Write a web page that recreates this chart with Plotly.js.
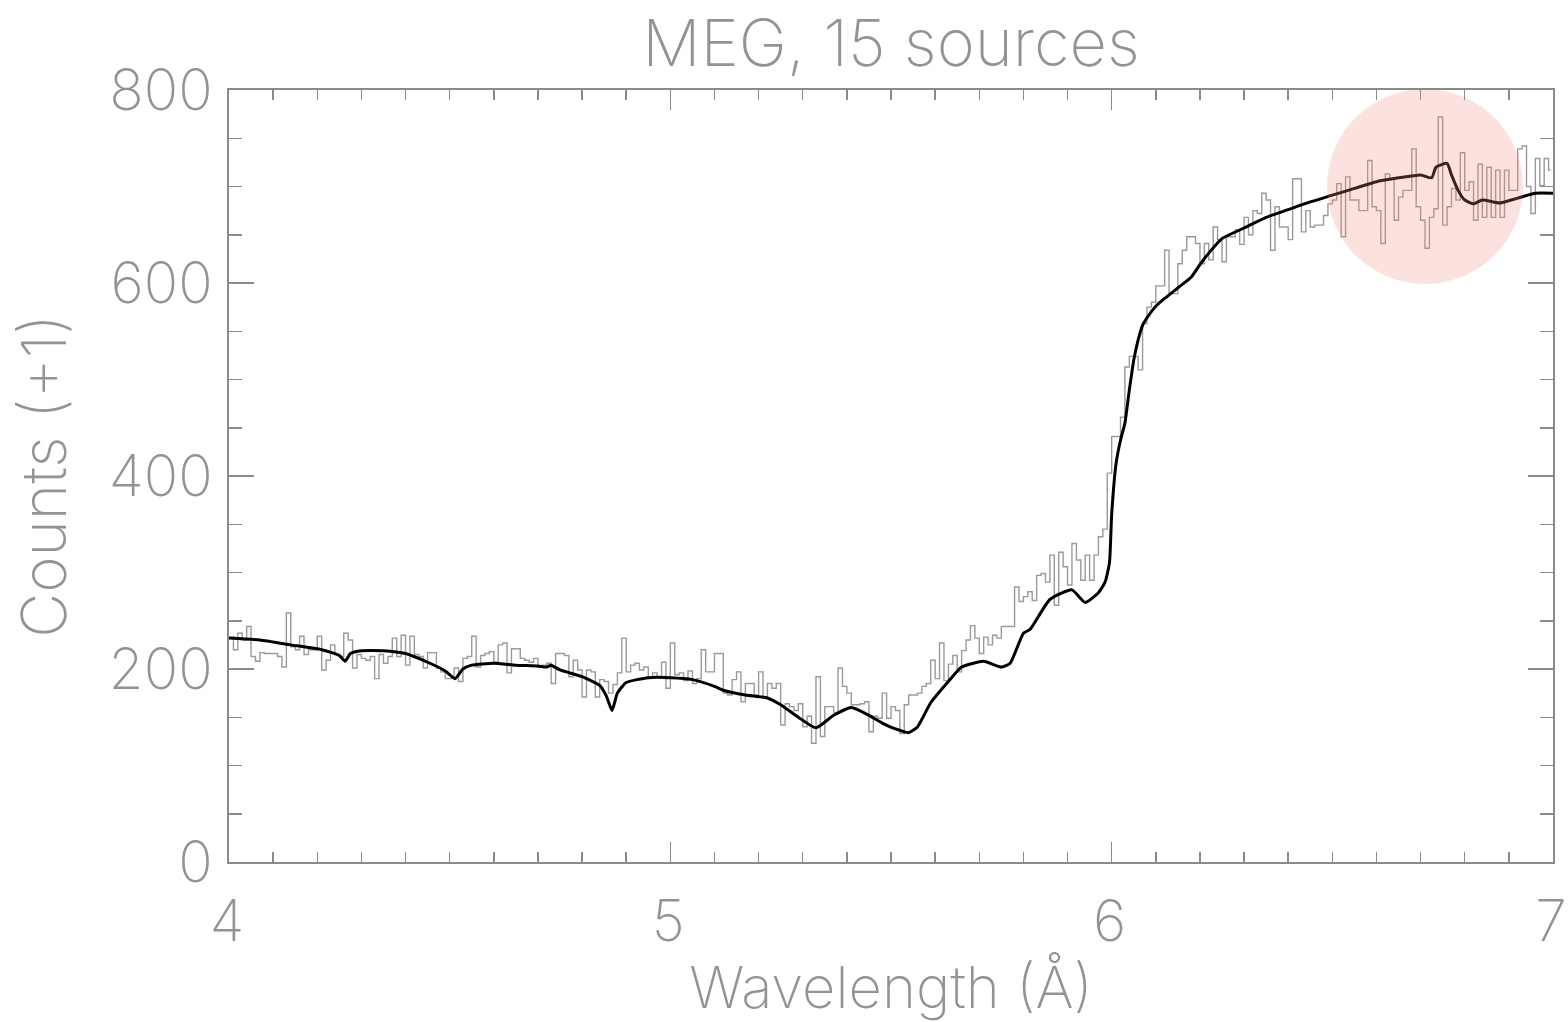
<!DOCTYPE html>
<html>
<head>
<meta charset="utf-8">
<script src="https://cdn.plot.ly/plotly-3.0.1.min.js"></script>
<style>
  html, body { margin: 0; padding: 0; background: #ffffff; }
  #chart { width: 1568px; height: 1022px; }
</style>
</head>
<body>
<div id="chart"></div>
<script>
// Binned MEG spectrum: counts (+1) in 0.01 Å bins from 4.00 to 7.00 Å
const binStart = 4.0;
const binWidth = 0.01;
const counts = [
  233,220,237,230,244,213,208,217,216,216, 216,213,202,258,223,220,234,215,220,220,
  234,199,209,225,215,213,237,230,201,215, 211,209,213,190,215,206,213,232,213,235,
  204,234,215,213,201,217,217,201,197,190, 190,201,187,211,213,234,202,214,216,218,
  207,225,227,196,221,221,211,209,207,211, 202,204,206,185,216,216,214,192,209,199,
  171,199,197,171,189,187,175,184,196,232, 197,204,206,199,202,191,196,192,207,180,
  227,194,196,188,198,185,190,220,197,197, 216,216,175,173,189,197,166,185,185,173,
  197,171,185,180,185,142,164,161,157,164, 140,151,123,192,130,161,161,155,201,182,
  175,163,163,164,166,135,151,149,175,149, 161,157,133,163,173,173,175,182,185,209,
  190,227,188,205,214,197,219,230,245,232, 216,233,225,235,232,244,244,244,285,270,
  275,280,271,297,299,290,318,266,321,306, 287,330,313,292,318,292,318,337,345,403,
  441,441,461,513,524,524,510,558,575,580, 597,597,634,589,589,620,634,648,648,641,
  620,641,624,658,645,622,648,648,655,640, 668,650,675,672,693,686,634,679,658,658,
  645,708,708,653,675,658,660,660,670,682, 686,703,648,710,686,686,675,675,727,679,
  675,641,713,708,665,689,696,696,739,679, 665,636,668,677,772,660,679,698,686,735,
  696,705,665,723,668,720,668,717,668,717, 696,696,739,742,700,672,729,701,729,717
];

// Model prediction (smooth curve)
const modelWave = [
  4.00,4.07,4.14,4.21,4.25,4.263,4.275,4.30,4.35,4.40,
  4.45,4.49,4.512,4.53,4.55,4.60,4.65,4.70,4.72,4.73,
  4.75,4.80,4.84,4.855,4.868,4.88,4.90,4.95,5.00,5.05,
  5.10,5.12,5.17,5.22,5.25,5.29,5.33,5.37,5.41,5.45,
  5.48,5.51,5.54,5.56,5.59,5.63,5.66,5.71,5.75,5.77,
  5.80,5.815,5.86,5.91,5.94,5.97,5.985,5.995,6.00,6.01,
  6.02,6.03,6.04,6.05,6.06,6.07,6.08,6.10,6.12,6.15,
  6.18,6.20,6.22,6.25,6.30,6.35,6.40,6.45,6.50,6.55,
  6.60,6.65,6.70,6.725,6.735,6.76,6.77,6.785,6.80,6.82,
  6.84,6.88,6.92,6.96,7.00
];
const modelCounts = [
  232,230,225,220,214,208,216,219,219,216,
  207,198,190,200,204,206,204,203,202,204,
  199,192,183,172,157,175,186,191,191,189,
  182,178,173,170,163,150,139,152,160,152,
  144,138,134,140,165,187,202,208,202,206,
  237,241,272,282,269,279,290,310,360,413,
  437,455,489,520,541,556,564,576,584,595,
  606,619,631,646,657,668,676,684,691,698,
  705,709,712,709,720,724,712,696,686,682,
  686,683,688,693,693
];

// Highlighted region around the 6.7 Å feature
const markCenter = [6.71, 700];
const markRadius = [0.222, 101];

const binCenters = counts.map((_, i) => +(binStart + binWidth * (i + 0.5)).toFixed(4));

const textGrey = '#939393';
const axisGrey = '#8a8a8a';
const fontFamily = 'Inter, "DejaVu Sans", sans-serif';

const traces = [
  {
    x: binCenters,
    y: counts,
    type: 'scatter',
    mode: 'lines',
    line: { shape: 'hvh', color: '#9a9a9a', width: 1.4 },
    hoverinfo: 'x+y',
    showlegend: false
  },
  {
    x: modelWave,
    y: modelCounts,
    type: 'scatter',
    mode: 'lines',
    line: { color: '#000000', width: 3, shape: 'spline', smoothing: 0.5 },
    showlegend: false
  }
];

const axisCommon = {
  showgrid: false,
  zeroline: false,
  showline: true,
  linecolor: axisGrey,
  linewidth: 2,
  mirror: 'ticks',
  ticks: 'inside',
  tickcolor: axisGrey,
  tickwidth: 1.5,
  tickfont: { family: fontFamily, size: 57, color: textGrey, weight: 200 }
};

const layout = {
  width: 1568,
  height: 1022,
  margin: { l: 229, r: 15, t: 90, b: 160 },
  paper_bgcolor: '#ffffff',
  plot_bgcolor: '#ffffff',
  showlegend: false,
  title: {
    text: 'MEG, 15 sources',
    font: { family: fontFamily, size: 65, color: textGrey, weight: 200 },
    x: 0.5, xref: 'paper', xanchor: 'center',
    y: 0.958, yref: 'container', yanchor: 'middle'
  },
  xaxis: Object.assign({}, axisCommon, {
    range: [4, 7],
    tickvals: [4, 5, 6, 7],
    ticklen: 20,
    ticklabelstandoff: 9,
    ticklabelshift: -2,
    ticklabeloverflow: 'allow',
    minor: { dtick: 0.1, ticks: 'inside', ticklen: 10, tickcolor: axisGrey, tickwidth: 1.5 },
    title: {
      text: 'Wavelength (Å)',
      font: { family: fontFamily, size: 58, color: textGrey, weight: 200 },
      standoff: 20
    }
  }),
  yaxis: Object.assign({}, axisCommon, {
    range: [0, 800],
    tickvals: [0, 200, 400, 600, 800],
    ticklen: 25,
    ticklabelstandoff: 3,
    minor: { dtick: 50, ticks: 'inside', ticklen: 13, tickcolor: axisGrey, tickwidth: 1.5 },
    title: {
      text: 'Counts (+1)',
      font: { family: fontFamily, size: 62, color: textGrey, weight: 200 },
      standoff: 22
    }
  }),
  shapes: [
    {
      type: 'circle',
      xref: 'x', yref: 'y',
      x0: markCenter[0] - markRadius[0], x1: markCenter[0] + markRadius[0],
      y0: markCenter[1] - markRadius[1], y1: markCenter[1] + markRadius[1],
      fillcolor: 'rgba(240,140,125,0.25)',
      line: { width: 0 },
      layer: 'above'
    }
  ]
};

Plotly.newPlot('chart', traces, layout, { displayModeBar: false, staticPlot: true });
</script>
</body>
</html>
